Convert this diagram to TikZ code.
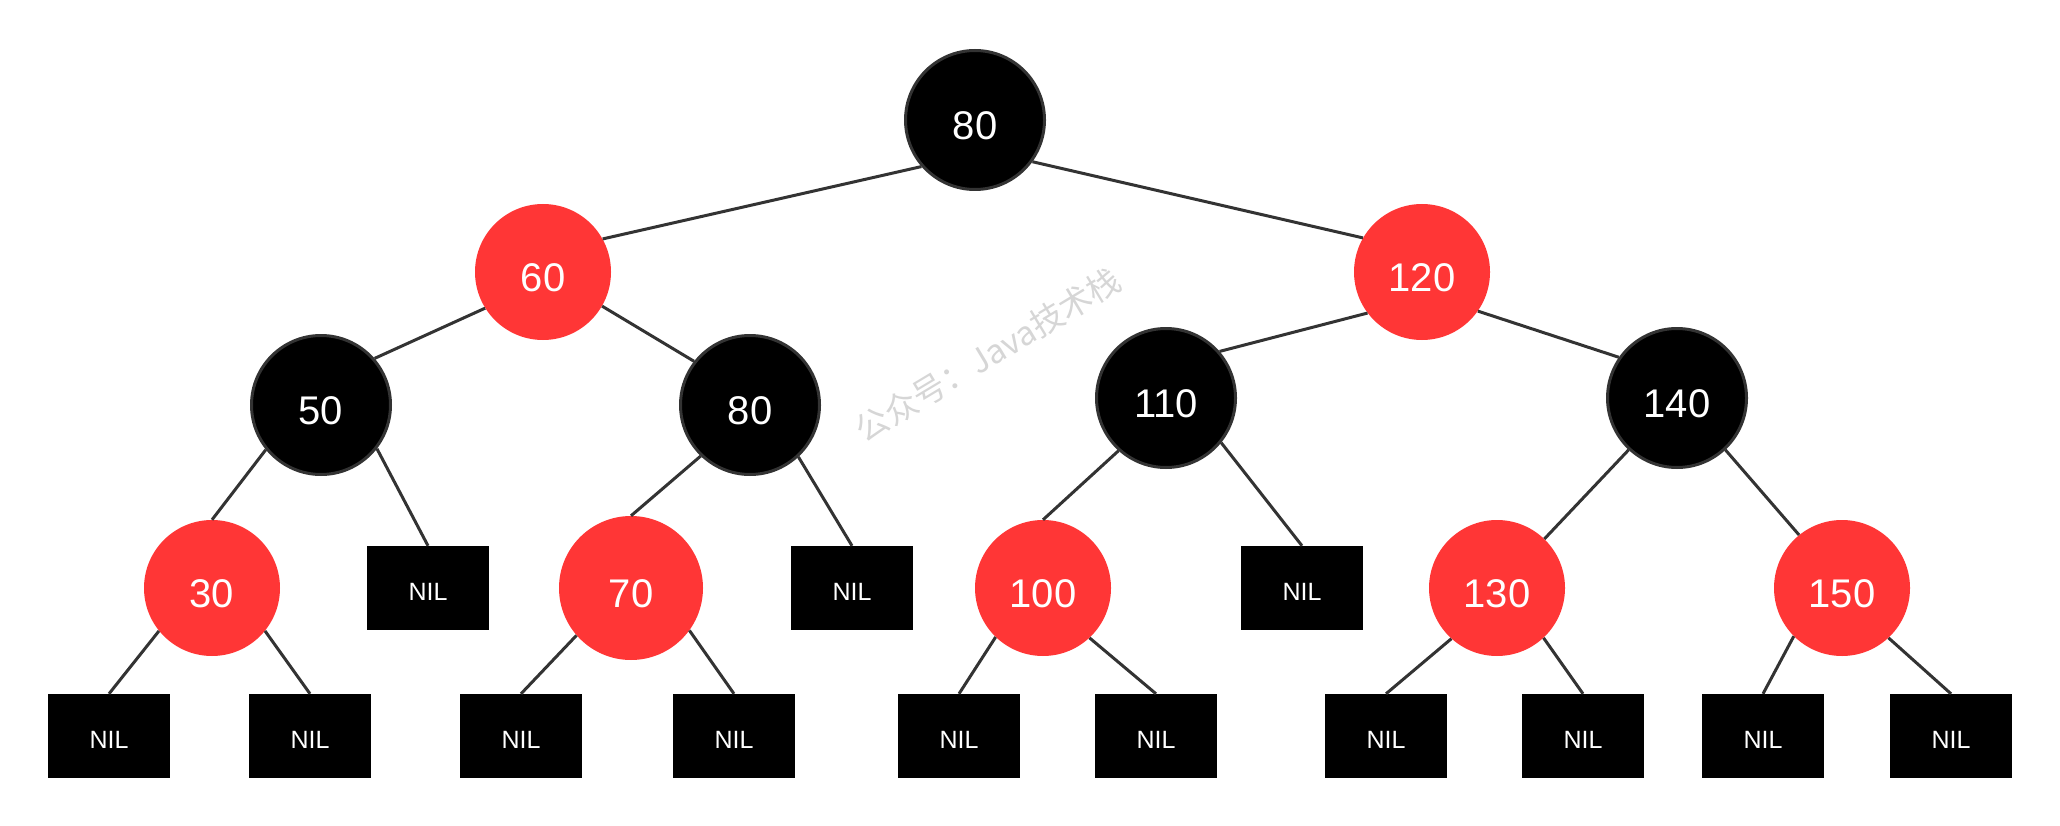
\documentclass[tikz,border=0pt]{standalone}
\usepackage{fontspec}
\setmainfont{Liberation Sans}
\newfontfamily\cjk{Noto Sans CJK SC}
\definecolor{rbred}{RGB}{255,54,54}
\definecolor{edgegray}{RGB}{51,51,51}
\begin{document}
\begin{tikzpicture}[x=1pt,y=-1pt,
    blacknode/.style={circle, fill=black, draw=edgegray, line width=3pt, inner sep=0pt,
        minimum size=139pt, text=white, text height=39pt, text depth=0pt,
        font=\fontsize{40}{48}\selectfont},
    rednode/.style={circle, fill=rbred, inner sep=0pt,
        minimum size=136pt, text=white, text height=39pt, text depth=0pt,
        font=\fontsize{40}{48}\selectfont},
    nilbox/.style={rectangle, fill=black, inner sep=0pt, minimum width=122pt,
        minimum height=84pt, text=white, text height=24pt, text depth=0pt,
        font=\fontsize{25}{30}\selectfont},
    link/.style={draw=edgegray, line width=3pt}]
    \useasboundingbox (0,0) rectangle (2060,826);

    % watermark
    \node[rotate=31, text=black!16, font=\cjk\fontsize{33}{40}\selectfont] (mark) at (988,355) {公众号：Java技术栈};

    % inner nodes
    \node[blacknode] (n80) at (975,120) {80};
    \node[rednode] (n60) at (543,272) {60};
    \node[rednode] (n120) at (1422,272) {120};
    \node[blacknode] (n50) at (321,405) {50};
    \node[blacknode] (n80b) at (750,405) {80};
    \node[blacknode] (n110) at (1166,398) {110};
    \node[blacknode] (n140) at (1677,398) {140};
    \node[rednode] (n30) at (212,588) {30};
    \node[rednode, minimum size=144pt] (n70) at (631,588) {70};
    \node[rednode] (n100) at (1043,588) {100};
    \node[rednode] (n130) at (1497,588) {130};
    \node[rednode] (n150) at (1842,588) {150};

    % leaves
    \foreach \name / \x / \y in {nilA/428/588, nilB/852/588, nilC/1302/588,
        nil1/109/736, nil2/310/736, nil3/521/736, nil4/734/736, nil5/959/736,
        nil6/1156/736, nil7/1386/736, nil8/1583/736, nil9/1763/736, nil10/1951/736}
    {
        \node[nilbox] (\name) at (\x,\y) {NIL};
    }

    % edges (they leave the parent off-centre)
    \foreach \a / \b in {n80.221/n60.29, n80.324/n120.150,
        n60.212/n50.41, n60.330/n80b.142, n120.217/n110.41, n120.325/n140.145,
        n50.219/n30.north, n50.322/nilA.north, n80b.226/n70.north, n80b.313/nilB.north,
        n110.228/n100.north, n110.321/nilC.north, n140.227/n130.46, n140.313/n150.129,
        n30.219/nil1.north, n30.321/nil2.north, n70.221/nil3.north, n70.324/nil4.north,
        n100.226/nil5.north, n100.313/nil6.north, n130.228/nil7.north, n130.313/nil8.north,
        n150.225/nil9.north, n150.313/nil10.north}
    {
        \draw[link] (\a) -- (\b);
    }

\end{tikzpicture}
\end{document}
